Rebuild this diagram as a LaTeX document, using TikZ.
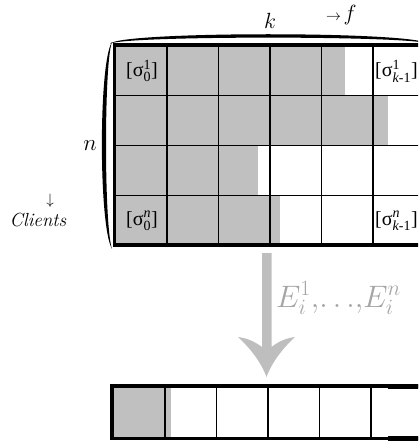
\documentclass[tikz,border=0pt]{standalone}
\usepackage{fix-cm}
\usepackage{amsmath}
\usepackage{fontspec}
\newfontfamily\cellfont{Liberation Serif}
\definecolor{fillgray}{RGB}{192,192,192}
\definecolor{arrowgray}{RGB}{190,190,190}
\definecolor{labelgray}{RGB}{165,165,165}
\tikzset{
  outerline/.style={line width=3.3pt},
  innerline/.style={line width=1.3pt},
  cellname/.style={inner sep=1pt,font=\cellfont\fontsize{20}{22}\selectfont},
  axisname/.style={inner sep=0pt,font=\fontsize{22}{24}\selectfont},
}
\newcommand{\sig}[2]{[$\text{σ}^{\text{#1}}_{\text{#2}}$]}
\begin{document}
\begin{tikzpicture}[x=1pt,y=-1pt]
\useasboundingbox (0,0) rectangle (418,441);
\clip (0,0) rectangle (418,441);

% progress of each client (shaded part of each row)
\fill[fillgray] (114.5,45)    rectangle (345,95.5);
\fill[fillgray] (114.5,95.5)  rectangle (388,145.5);
\fill[fillgray] (114.5,145.5) rectangle (258,195.5);
\fill[fillgray] (114.5,195.5) rectangle (280,245);

% grid
\foreach \x in {167,218.5,270,321.5,373}
  \draw[innerline] (\x,45) -- (\x,245);
\foreach \y in {95.5,145.5,195.5}
  \draw[innerline] (114.5,\y) -- (424.5,\y);
\draw[outerline] (114.5,45) rectangle (424.5,245);

% cell contents
\node[cellname] (s10) at (142,71) {\sig{1}{0}};
\node[cellname] (sn0) at (142,221) {\sig{\itshape n}{0}};
\node[cellname,anchor=west] (s1k) at (374,71) {[$\text{σ}^{\text{1}}_{\text{\itshape k}\text{-1}}$]};
\node[cellname,anchor=west] (snk) at (374,221) {[$\text{σ}^{\text{\itshape n}}_{\text{\itshape k}\text{-1}}$]};

% top brace
\fill (110,44) .. controls (116,31) and (420,31) .. (428,44)
      .. controls (420,35.5) and (116,35.5) .. (110,44) -- cycle;
% left brace
\fill (112,42) .. controls (98.5,62) and (98.5,226) .. (112,249)
      .. controls (104,226) and (104,62) .. (112,42) -- cycle;

% axis labels
\node[axisname] (klab) at (270,21) {$k$};
\node[inner sep=0pt,anchor=base west] (flab) at (326,21)
  {\fontsize{15}{16}\selectfont$\rightarrow$\,\fontsize{22}{23}\selectfont$f$};
\node[inner sep=0pt,font=\fontsize{23}{24}\selectfont] (nlab) at (90,146) {$n$};
\node[inner sep=0pt,font=\fontsize{15}{16}\selectfont] (darr) at (50,201) {$\downarrow$};
\node[inner sep=0pt,anchor=base,font=\fontsize{19}{20}\selectfont\itshape] (clients) at (38,226) {Clients};

% aggregation arrow
\fill[arrowgray] (262,253) -- (271.5,253) -- (271.5,347)
  .. controls (279,341) and (287,338) .. (295,337)
  .. controls (283,348) and (272,362) .. (266.5,377)
  .. controls (261,362) and (250,348) .. (238,337)
  .. controls (246,338) and (254,341) .. (262,347) -- cycle;
\node[inner sep=0pt,anchor=base west,text=labelgray,font=\fontsize{31}{33}\selectfont]
  (elab) at (276,307) {$E^1_i{,}\mathord{\ldots}{,}E^n_i$};

% aggregated result
\fill[fillgray] (112,386) rectangle (171,438.5);
\foreach \x in {165,216.5,268,319.5,371}
  \draw[innerline] (\x,386) -- (\x,438.5);
\draw[outerline] (112,386) rectangle (422.5,438.5);
\draw[line width=5pt] (388,386) -- (425,386);
\draw[line width=5pt] (388,438.5) -- (425,438.5);
\end{tikzpicture}
\end{document}
